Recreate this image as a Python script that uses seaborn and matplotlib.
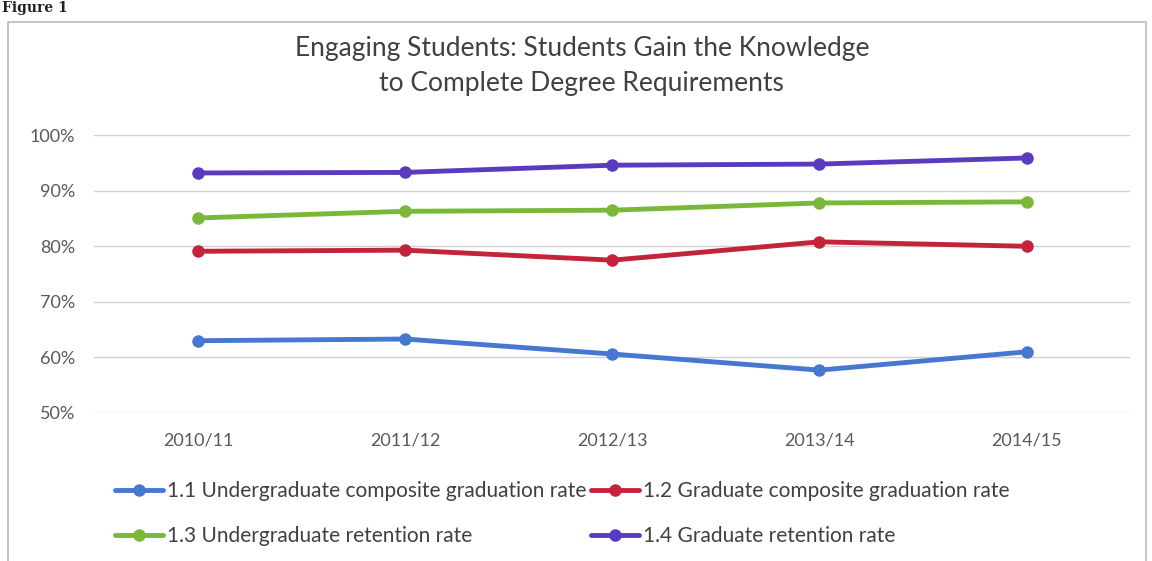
import matplotlib
matplotlib.use("Agg")
import matplotlib.pyplot as plt
import seaborn as sns
import pandas as pd
from matplotlib.patches import Rectangle
from matplotlib.ticker import PercentFormatter

years = ["2010/11", "2011/12", "2012/13", "2013/14", "2014/15"]
series_names = [
    "1.1 Undergraduate composite graduation rate",
    "1.2 Graduate composite graduation rate",
    "1.3 Undergraduate retention rate",
    "1.4 Graduate retention rate",
]
ug_grad = [63.0, 63.3, 60.6, 57.7, 61.0]
grad_grad = [79.1, 79.3, 77.5, 80.8, 80.0]
ug_ret = [85.1, 86.3, 86.5, 87.8, 88.0]
grad_ret = [93.2, 93.3, 94.6, 94.8, 95.9]
colors = ["#4677D1", "#C4243A", "#7AB83A", "#5A3BC0"]

values = [ug_grad, grad_grad, ug_ret, grad_ret]
rows = []
for name, vals in zip(series_names, values):
    for i, (y, v) in enumerate(zip(years, vals)):
        rows.append({"Year": y, "idx": i, "Series": name, "Value": v})
df = pd.DataFrame(rows)

sns.set_theme(style="white")
plt.rcParams["font.family"] = ["Lato", "DejaVu Sans"]

fig = plt.figure(figsize=(11.52, 5.61), dpi=100)
ax = fig.add_axes([0.082, 0.264, 0.899, 0.495])

sns.lineplot(data=df, x="idx", y="Value", hue="Series", hue_order=series_names,
             palette=colors, marker="o", markersize=9, linewidth=3.5,
             markeredgewidth=0, ax=ax, legend=True)

ax.set_xlim(-0.5, 4.5)
ax.set_ylim(50, 100)
ax.set_yticks([50, 60, 70, 80, 90, 100])
ax.yaxis.set_major_formatter(PercentFormatter(decimals=0))
ax.set_xticks(range(len(years)))
ax.set_xticklabels(years)
ax.set_xlabel("")
ax.set_ylabel("")
ax.grid(axis="y", color="#d0d0d0", linewidth=1)
ax.set_axisbelow(True)
for s in ax.spines.values():
    s.set_visible(False)
ax.tick_params(axis="both", labelsize=13, colors="#595959", length=0)
ax.tick_params(axis="y", pad=14)
ax.tick_params(axis="x", pad=14)

handles, labels = ax.get_legend_handles_labels()
ax.get_legend().remove()
order = [0, 2, 1, 3]
fig.legend([handles[i] for i in order], [labels[i] for i in order],
           loc="upper left", bbox_to_anchor=(0.1, 0.142),
           ncol=2, frameon=False, fontsize=15, labelcolor="#404040",
           handlelength=2.3, handletextpad=0.2, columnspacing=0.2,
           labelspacing=1.2, borderaxespad=0, borderpad=0)

fig.text(0.505, 0.882, "Engaging Students: Students Gain the Knowledge\nto Complete Degree Requirements",
         ha="center", va="center", fontsize=19, color="#404040", linespacing=1.5)

fig.patches.append(Rectangle((0.007, -0.01), 0.988, 0.971, transform=fig.transFigure,
                             fill=False, edgecolor="#bbbbbb", linewidth=1.2))
fig.text(0.002, 0.998, "Figure 1", fontsize=10, fontweight="bold",
         family=["DejaVu Serif"], va="top", ha="left", color="#222222")

fig.savefig("out.png", dpi=100)
